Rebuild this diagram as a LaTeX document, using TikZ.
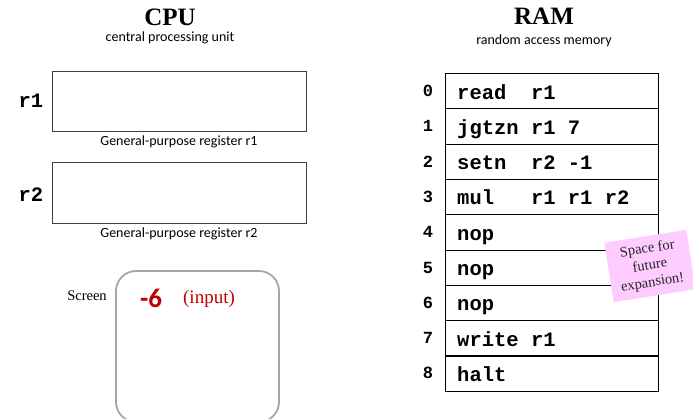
\documentclass[tikz,border=0pt]{standalone}
\usepackage{fontspec}
\setmainfont{Liberation Serif}
\setmonofont{Liberation Mono}
\newfontfamily\calib{Carlito}
\definecolor{inred}{HTML}{C00000}
\definecolor{notepink}{HTML}{FFCCFF}
\definecolor{boxline}{HTML}{404040}
\definecolor{screenline}{HTML}{A6A6A6}
\begin{document}
\begin{tikzpicture}[x=1pt,y=-1pt,
  title/.style={font=\fontsize{25}{25}\selectfont\bfseries, anchor=base},
  subtitle/.style={font=\calib\fontsize{14}{14}\selectfont, anchor=base},
  reglabel/.style={font=\ttfamily\bfseries\fontsize{20.5}{20.5}\selectfont, anchor=base},
  regbox/.style={draw=boxline, line width=1pt},
  cell/.style={draw=black, line width=1.1pt, minimum width=213pt, minimum height=35.3pt, anchor=north west, inner sep=0pt},
  instr/.style={font=\ttfamily\bfseries\fontsize{20.5}{20.5}\selectfont, anchor=base west, inner sep=0pt},
  addr/.style={font=\ttfamily\bfseries\fontsize{17}{17}\selectfont, anchor=base},
  ]
\useasboundingbox (0,0) rectangle (693,418);

% ---- CPU side ----
\node[title] (cpu) at (170,25) {CPU};
\node[subtitle] (cpusub) at (170,41) {central processing unit};

\draw[regbox] (52,71) rectangle (306,131);
\coordinate (r1box) at (179,101);
\node[reglabel] (r1lab) at (31,107) {r1};
\node[subtitle] (r1cap) at (179,145) {General-purpose register r1};

\draw[regbox] (52,162) rectangle (306,223);
\coordinate (r2box) at (179,192);
\node[reglabel] (r2lab) at (31,201) {r2};
\node[subtitle] (r2cap) at (179,237) {General-purpose register r2};

% screen
\draw[draw=screenline, line width=1.8pt, rounded corners=20pt] (116,271) rectangle (279,422);
\node[font=\fontsize{14.5}{15}\selectfont, anchor=base] (screenlab) at (87,300) {Screen};
\node[font=\calib\bfseries\fontsize{27}{27}\selectfont, text=inred, anchor=base] (val) at (151,307) {-6};
\node[font=\fontsize{19}{19}\selectfont, text=inred, anchor=base] (inp) at (209,303) {(input)};

% ---- RAM side ----
\node[title] (ram) at (544,24) {RAM};
\node[subtitle] (ramsub) at (544,44) {random access memory};

\foreach \i/\txt in {0/{read\ \ r1},1/{jgtzn r1 7},2/{setn\ \ r2 -1},3/{mul\ \ \ r1 r1 r2},4/{nop},5/{nop},6/{nop},7/{write r1},8/{halt}}{
  \pgfmathsetmacro{\top}{73+35.3*\i}
  \node[cell] (row\i) at (445,\top) {};
  \node[instr] (ins\i) at (457,\top+26) {\txt};
  \node[addr] (adr\i) at (428,\top+23.5) {\i};
}

% sticky note
\node[rotate=9, fill=notepink, minimum width=83pt, minimum height=60pt, inner sep=0pt,
      align=center, text=black!85, font=\fontsize{14.5}{17}\selectfont] (note) at (650,266)
      {Space for\\future\\expansion!};
\end{tikzpicture}
\end{document}
